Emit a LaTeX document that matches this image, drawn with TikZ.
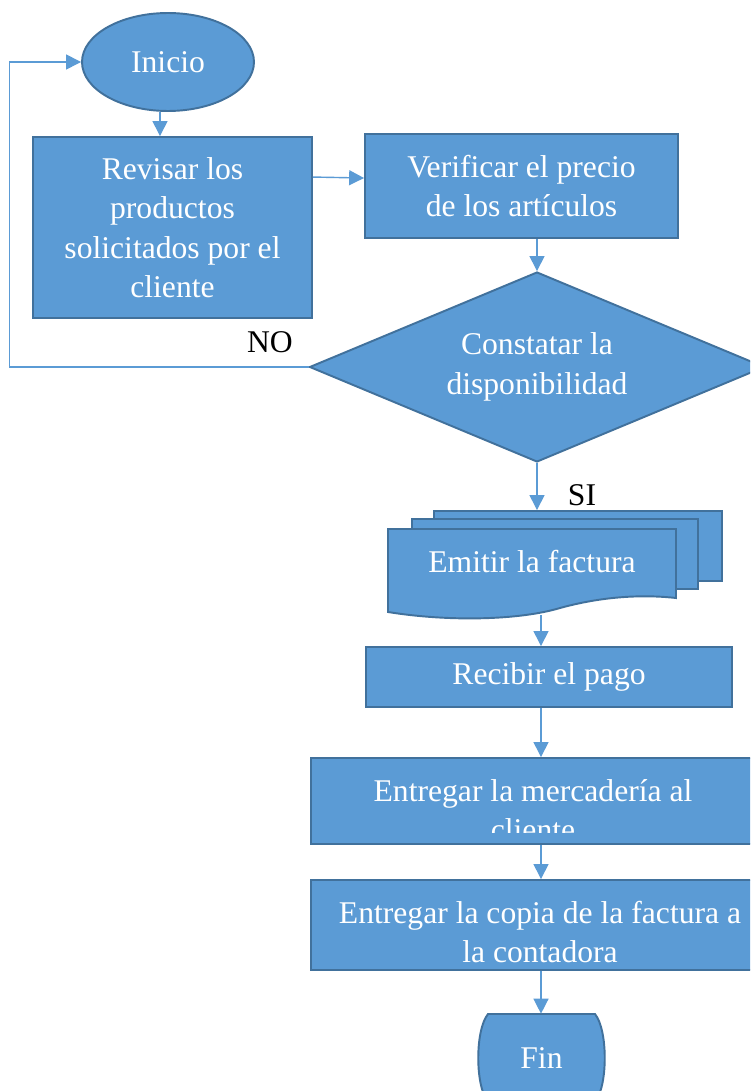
\documentclass[tikz,border=0pt]{standalone}
\usepackage{fontspec}
\setmainfont{Liberation Serif}
\usepackage{tikz}
\usetikzlibrary{arrows.meta,shapes.geometric}
\definecolor{relleno}{RGB}{91,155,213}
\definecolor{borde}{RGB}{65,113,156}
\definecolor{linea}{RGB}{91,155,213}
\tikzset{
    caja/.style={
           rectangle,
           draw=borde, fill=relleno, line width=1.1pt,
           text=white, align=center,
           font=\fontsize{18}{22.5}\selectfont,
           inner sep=1pt,
           },
    docu/.style={
           draw=borde, fill=relleno, line width=1.1pt,
           },
    flecha/.style={
           -{Triangle[length=8.5pt,width=8.5pt]},
           draw=linea, line width=0.8pt,
           },
    rotulo/.style={
           font=\fontsize{18}{22.5}\selectfont,
           text=black, inner sep=0pt,
           },
}

\begin{document}
\begin{tikzpicture}[x=0.02cm,y=-0.02cm]
\clip (0,0) rectangle (750,1091);
\fill[white] (0,0) rectangle (750,1091);
\coordinate (eje) at (541,0);
\node[caja, ellipse, minimum width=3.44cm, minimum height=1.96cm] (inicio) at (168,62) {Inicio};
\node[caja, minimum width=5.58cm, minimum height=3.62cm] (revisar) at (172.5,227.5) {Revisar los\\productos\\solicitados por el\\cliente};
\node[caja, minimum width=6.26cm, minimum height=2.08cm] (verificar) at (521.5,186) {Verificar el precio\\de los artículos};
\node[caja, diamond, aspect=2.37, minimum width=9.1cm, minimum height=3.8cm] (constatar) at (537,367) {Constatar la\\disponibilidad};
\node[caja, minimum width=5.76cm, minimum height=1.4cm] (emitir3) at (578,546) {};
\node[caja, minimum width=5.72cm, minimum height=1.4cm] (emitir2) at (555,554) {};
\draw[docu] (388,529) -- (676,529) -- (676,598)
    .. controls (640,594) and (600,597) .. (560,608)
    .. controls (520,620) and (450,622) .. (388,612) -- cycle;
\node[rotulo, text=white] (emitir) at (532,562) {Emitir la factura};
\coordinate (emitirbase) at (541,615);
\node[caja, minimum width=7.32cm, minimum height=1.2cm] (recibir) at (549,677) {Recibir el pago};
\node[caja, minimum width=9.2cm, minimum height=1.72cm] (mercaderia) at (541,801) {};
\begin{scope}
\clip (311,760) rectangle (771,832);
\node[rotulo, text=white, align=center] (mercaderiatexto) at (533,810) {Entregar la mercadería al\\cliente};
\end{scope}
\node[caja, minimum width=9.2cm, minimum height=1.8cm] (copia) at (541,925) {};
\node[rotulo, text=white, align=center] (copiatexto) at (540,932) {Entregar la copia de la factura a\\la contadora};
\draw[docu] (488,1014) -- (595,1014)
    .. controls (608,1030) and (608,1086) .. (595,1102) -- (488,1102)
    .. controls (475,1086) and (475,1030) .. (488,1014) -- cycle;
\node[rotulo, text=white, minimum width=2.46cm, minimum height=1.76cm] (fin) at (541.5,1058) {Fin};
\node[rotulo] (no) at (270,342) {NO};
\node[rotulo] (si) at (582,495) {SI};
\draw[flecha] ([xshift=-0.16cm]inicio.south) -- ([xshift=-0.16cm]inicio.south |- revisar.north);
\draw[flecha] ([yshift=-0.82cm]revisar.north east) -- ([yshift=-0.9cm]verificar.north west);
\draw[flecha] (verificar.south -| constatar.north) -- (constatar.north);
\draw[flecha] (constatar.west) -- ++(-299,0) |- (inicio.west);
\draw[flecha] (constatar.south) -- (constatar.south |- emitir3.north);
\draw[flecha] (emitirbase) -- (recibir.north -| eje);
\draw[flecha] (recibir.south -| eje) -- (mercaderia.north -| eje);
\draw[flecha] (mercaderia.south -| eje) -- (copia.north -| eje);
\draw[flecha] (copia.south -| eje) -- (fin.north -| eje);
\end{tikzpicture}
\end{document}
